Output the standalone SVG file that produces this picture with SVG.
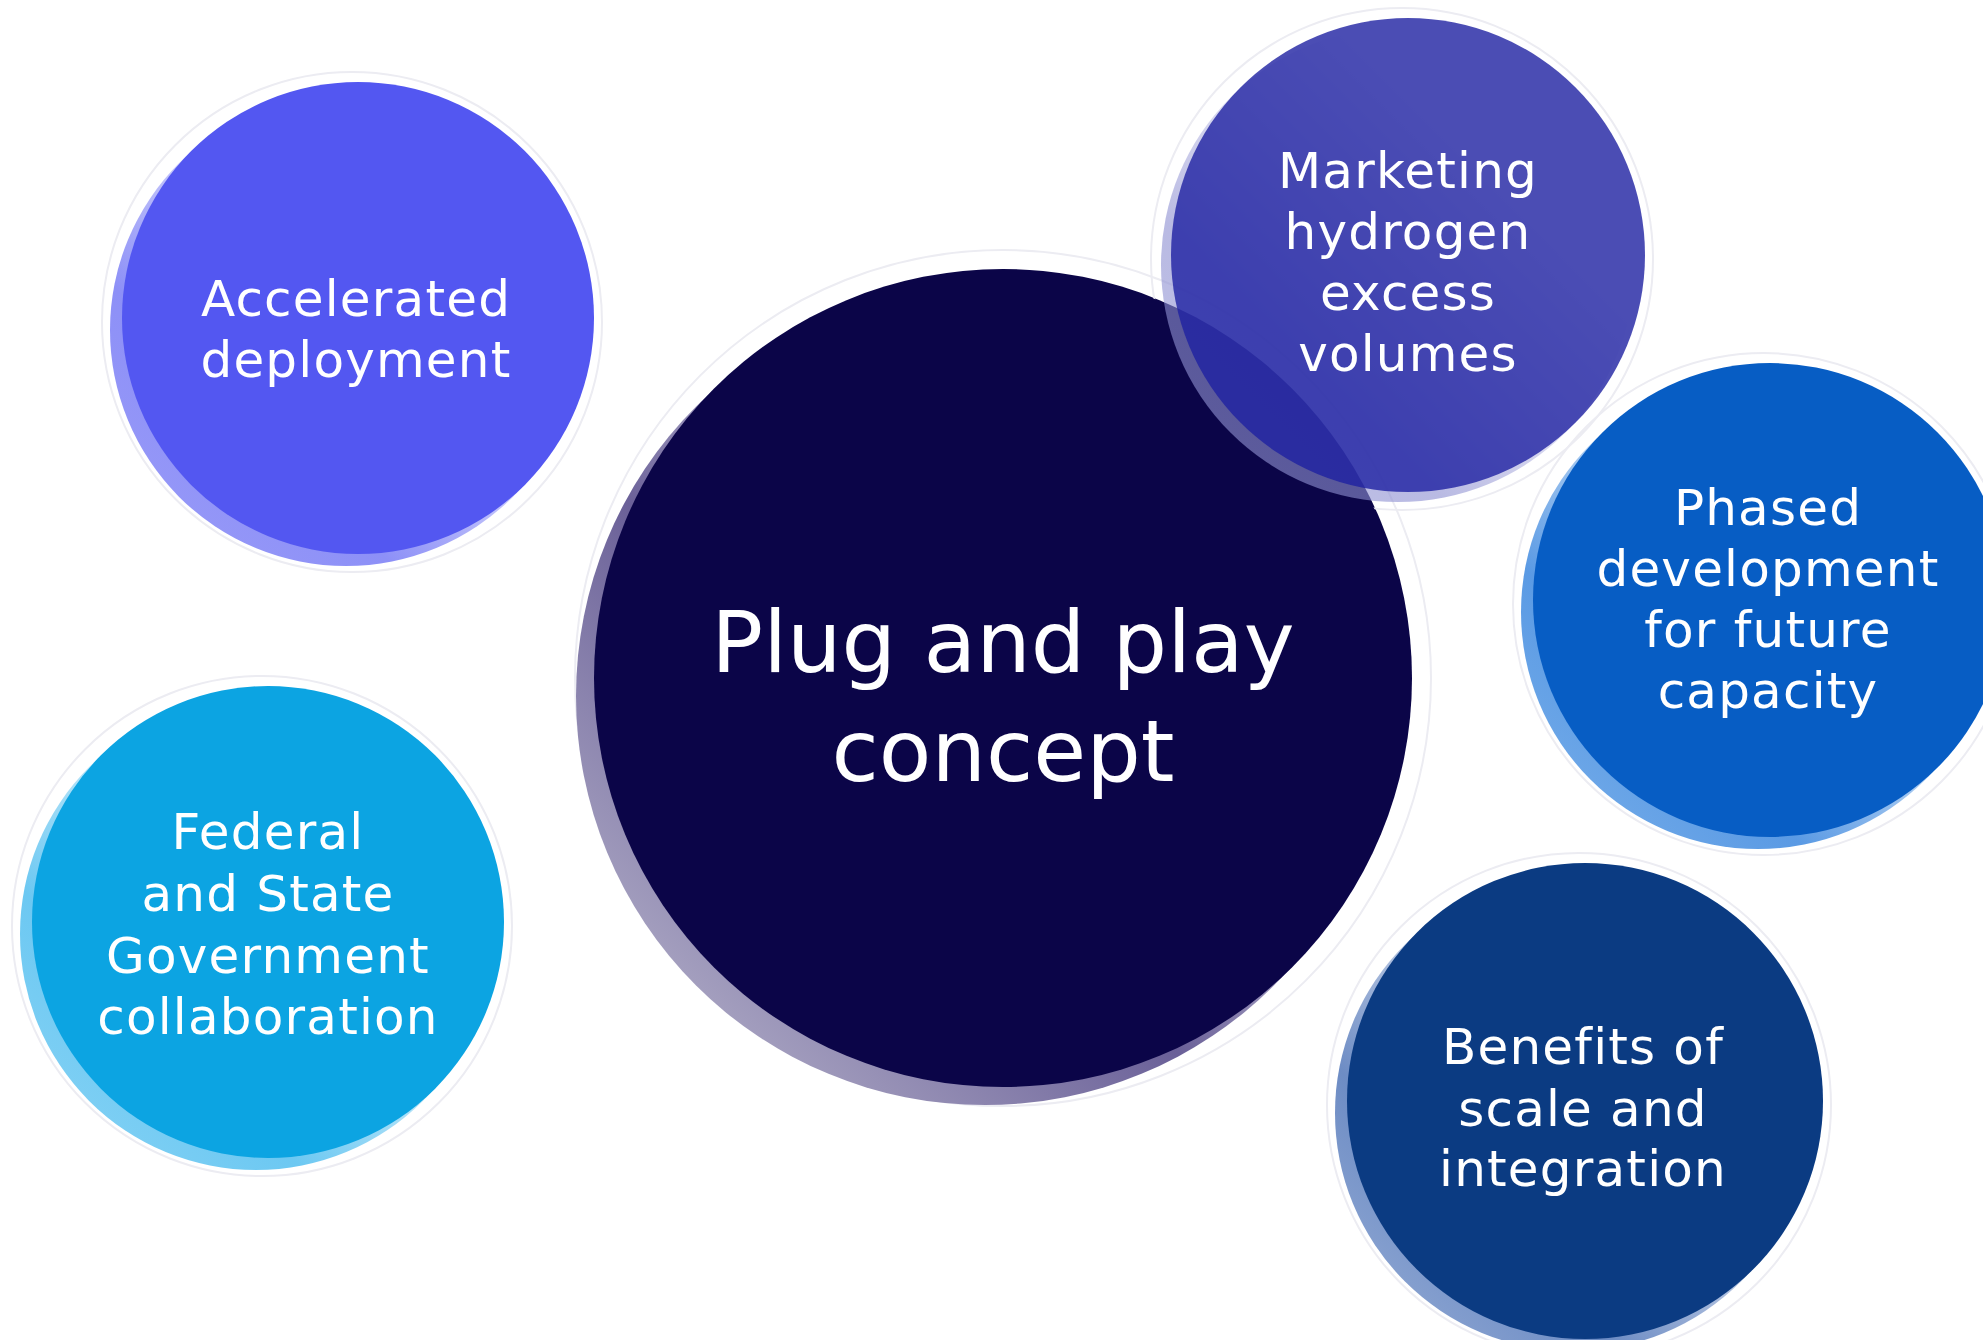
<svg xmlns="http://www.w3.org/2000/svg" width="1983" height="1340" viewBox="0 0 1983 1340">
<style>
.t{font-family:"DejaVu Sans","Liberation Sans",sans-serif;fill:#ffffff;text-anchor:middle}
.s{font-size:50px;letter-spacing:1.2px}
.b{font-size:86px}
.halo{fill:none;stroke:#ececf2;stroke-width:2}
</style>
<defs>
<linearGradient id="rimA" x1="1" y1="0" x2="0" y2="1"><stop offset="0.3" stop-color="#8d90f7" stop-opacity="0"/><stop offset="0.7" stop-color="#8d90f7"/><stop offset="1" stop-color="#9a9cf8"/></linearGradient>
<linearGradient id="rimM" x1="1" y1="0" x2="0" y2="1"><stop offset="0.3" stop-color="#8a8cd0" stop-opacity="0"/><stop offset="0.7" stop-color="#8a8cd0"/><stop offset="1" stop-color="#9a9cd8"/></linearGradient>
<linearGradient id="rimP" x1="1" y1="0" x2="0" y2="1"><stop offset="0.3" stop-color="#5a9ae4" stop-opacity="0"/><stop offset="0.7" stop-color="#5a9ae4"/><stop offset="1" stop-color="#7ab0ea"/></linearGradient>
<linearGradient id="rimF" x1="1" y1="0" x2="0" y2="1"><stop offset="0.3" stop-color="#6cc8f2" stop-opacity="0"/><stop offset="0.7" stop-color="#6cc8f2"/><stop offset="1" stop-color="#8ad4f5"/></linearGradient>
<linearGradient id="rimB" x1="1" y1="0" x2="0" y2="1"><stop offset="0.3" stop-color="#6d8cc4" stop-opacity="0"/><stop offset="0.7" stop-color="#6d8cc4"/><stop offset="1" stop-color="#9ab0d8"/></linearGradient>
<linearGradient id="rimC" x1="1" y1="0" x2="0" y2="1"><stop offset="0.25" stop-color="#7a74a8" stop-opacity="0"/><stop offset="0.6" stop-color="#6a6098"/><stop offset="1" stop-color="#c4c2d4"/></linearGradient>
<mask id="outsideCenter" maskUnits="userSpaceOnUse" x="0" y="0" width="1983" height="1340">
<rect width="1983" height="1340" fill="#ffffff"/>
<circle cx="994" cy="687" r="420" fill="#000000"/>
</mask>
</defs>
<rect width="1983" height="1340" fill="#ffffff"/>
<g id="connectors"></g>
<g id="node-center">
<circle class="halo" cx="1003" cy="678" r="428"/>
<circle cx="985" cy="696" r="409" fill="url(#rimC)"/>
<circle cx="1003" cy="678" r="409" fill="#0b0548"/>
<text class="t b" x="1003" y="672">Plug and play</text>
<text class="t b" x="1003" y="781">concept</text>
</g>
<g id="node-accelerated">
<circle class="halo" cx="352" cy="322" r="250"/>
<circle cx="346" cy="330" r="236" fill="url(#rimA)"/>
<circle cx="358" cy="318" r="236" fill="#5357f1"/>
<text class="t s" x="356" y="316">Accelerated</text>
<text class="t s" x="356" y="377">deployment</text>
</g>
<g id="node-marketing">
<circle class="halo" cx="1402" cy="259" r="251" mask="url(#outsideCenter)"/>
<circle cx="1398" cy="265" r="237" fill="url(#rimM)" opacity="0.6"/>
<circle cx="1408" cy="255" r="237" fill="#1e20a1" opacity="0.8"/>
<text class="t s" x="1408" y="188">Marketing</text>
<text class="t s" x="1408" y="249">hydrogen</text>
<text class="t s" x="1408" y="310">excess</text>
<text class="t s" x="1408" y="371">volumes</text>
</g>
<g id="node-phased">
<circle class="halo" cx="1764" cy="604" r="251"/>
<circle cx="1758" cy="612" r="237" fill="url(#rimP)"/>
<circle cx="1770" cy="600" r="237" fill="#075dc4"/>
<text class="t s" x="1768" y="525">Phased</text>
<text class="t s" x="1768" y="586">development</text>
<text class="t s" x="1768" y="647">for future</text>
<text class="t s" x="1768" y="708">capacity</text>
</g>
<g id="node-federal">
<circle class="halo" cx="262" cy="926" r="250"/>
<circle cx="256" cy="934" r="236" fill="url(#rimF)"/>
<circle cx="268" cy="922" r="236" fill="#0ca4e2"/>
<text class="t s" x="268" y="849">Federal</text>
<text class="t s" x="268" y="911">and State</text>
<text class="t s" x="268" y="973">Government</text>
<text class="t s" x="268" y="1034">collaboration</text>
</g>
<g id="node-benefits">
<circle class="halo" cx="1579" cy="1105" r="252"/>
<circle cx="1573" cy="1113" r="238" fill="url(#rimB)"/>
<circle cx="1585" cy="1101" r="238" fill="#0b3b82"/>
<text class="t s" x="1583" y="1064">Benefits of</text>
<text class="t s" x="1583" y="1126">scale and</text>
<text class="t s" x="1583" y="1186">integration</text>
</g>
</svg>
